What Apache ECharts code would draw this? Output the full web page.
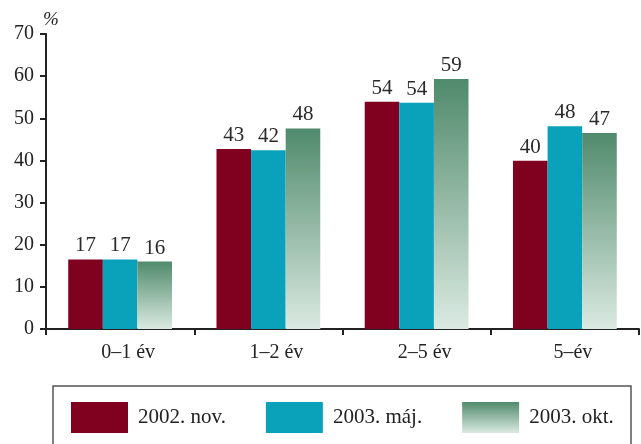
<!DOCTYPE html>
<html>
<head>
<meta charset="utf-8">
<script src="https://cdn.jsdelivr.net/npm/echarts@6/dist/echarts.min.js"></script>
<style>
html,body{margin:0;padding:0;background:#fff;}
#c{width:641px;height:444px;}
</style>
</head>
<body>
<div id="c"></div>
<script>
const categories = ['0–1 év', '1–2 év', '2–5 év', '5–év'];
const seriesNames = ['2002. nov.', '2003. máj.', '2003. okt.'];
const nov2002 = [16.5, 42.7, 53.9, 39.9];
const maj2003 = [16.5, 42.4, 53.7, 48.1];
const okt2003 = [16.0, 47.6, 59.3, 46.5];
const labels2002 = [17, 43, 54, 40];
const labels2003maj = [17, 42, 54, 48];
const labels2003okt = [16, 48, 59, 47];
const yTicks = [0, 10, 20, 30, 40, 50, 60, 70];

const FONT = '"Liberation Serif", "DejaVu Serif", serif';
const chart = echarts.init(document.getElementById('c'), null, {renderer: 'canvas'});

function mkLabel(arr) {
  return {
    show: true, position: 'top', distance: 3,
    fontFamily: FONT, fontSize: 21, color: '#2a2a2a',
    formatter: p => String(arr[p.dataIndex])
  };
}

const green = new echarts.graphic.LinearGradient(0, 0, 0, 1, [
  {offset: 0, color: '#508a6c'},
  {offset: 1, color: '#dbeae2'}
]);

chart.setOption({
  backgroundColor: '#ffffff',
  animation: false,
  textStyle: {fontFamily: FONT},
  grid: {left: 46, right: 2, top: 34, bottom: 115, containLabel: false},
  legend: {
    left: 66, top: 397,
    itemWidth: 57, itemHeight: 31, itemGap: 40,
    icon: 'rect',
    data: seriesNames,
    textStyle: {fontFamily: FONT, fontSize: 21, color: '#222', padding: [0, 0, 0, 5]}
  },
  xAxis: {
    type: 'category',
    data: categories,
    axisLine: {lineStyle: {color: '#222', width: 2}},
    axisTick: {show: true, length: 6, lineStyle: {color: '#222', width: 2}},
    axisLabel: {fontFamily: FONT, fontSize: 20, color: '#222', margin: 14, padding: [0, 0, 0, 16]}
  },
  yAxis: {
    type: 'value',
    min: yTicks[0], max: yTicks[yTicks.length - 1], interval: 10,
    splitLine: {show: false},
    axisLine: {show: true, lineStyle: {color: '#222', width: 2}},
    axisTick: {show: true, length: 6, lineStyle: {color: '#222', width: 2}},
    axisLabel: {fontFamily: FONT, fontSize: 20, color: '#222', margin: 12}
  },
  graphic: [
    {type: 'rect', shape: {x: 53, y: 386, width: 578, height: 80},
     style: {fill: 'none', stroke: '#555', lineWidth: 1.5}, silent: true},
    {type: 'text', x: 43, y: 10,
     style: {text: '%', font: 'italic 19px ' + FONT, fill: '#222'}}
  ],
  series: [
    {name: seriesNames[0], type: 'bar', data: nov2002, barGap: '0%', barCategoryGap: '30%',
     itemStyle: {color: '#800020'}, label: mkLabel(labels2002)},
    {name: seriesNames[1], type: 'bar', data: maj2003, barGap: '0%', barCategoryGap: '30%',
     itemStyle: {color: '#0aa1ba'}, label: mkLabel(labels2003maj)},
    {name: seriesNames[2], type: 'bar', data: okt2003, barGap: '0%', barCategoryGap: '30%',
     itemStyle: {color: green}, label: mkLabel(labels2003okt)}
  ]
});
</script>
</body>
</html>
